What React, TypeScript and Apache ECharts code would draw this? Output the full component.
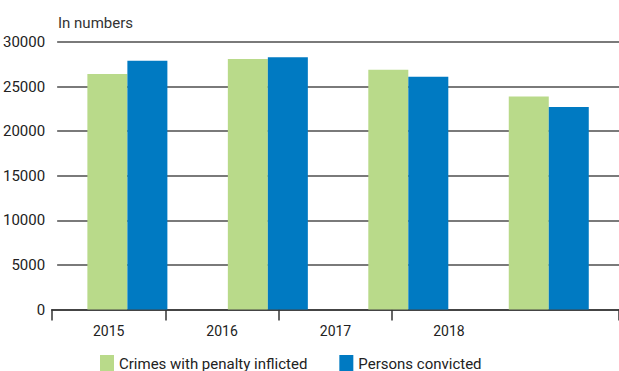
import React, { useEffect, useRef } from "react";
import * as echarts from "echarts";

const years = ["2015", "2016", "2017", "2018"];
const crimesWithPenalty = [26400, 28100, 26900, 23900];
const personsConvicted = [27900, 28300, 26100, 22700];
const yTicks = { min: 0, max: 30000, interval: 5000 };
const unitLabel = "In numbers";

const FONT = "Roboto, 'Liberation Sans', sans-serif";

export default function App() {
  const ref = useRef<HTMLDivElement>(null);
  useEffect(() => {
    if (!ref.current) return;
    const chart = echarts.init(ref.current, null, { renderer: "svg" });
    chart.setOption({
      animation: false,
      textStyle: { fontFamily: FONT },
      title: {
        text: unitLabel,
        left: 53,
        top: 10,
        textStyle: { fontFamily: FONT, fontSize: 15, fontWeight: "normal", color: "#333" },
      },
      legend: {
        left: 95,
        top: 350,
        icon: "rect",
        itemWidth: 14,
        itemHeight: 17,
        itemGap: 32,
        textStyle: { fontFamily: FONT, fontSize: 15, color: "#222" },
        data: ["Crimes with penalty inflicted", "Persons convicted"],
      },
      grid: [
        { left: 54, right: 0, top: 42, bottom: 61.5 },
        { left: 52, right: -8, top: 42, bottom: 61.5 },
      ],
      xAxis: [
        {
          type: "category",
          gridIndex: 0,
          data: years,
          axisLine: { show: false },
          axisTick: { show: false },
          axisLabel: { show: false },
        },
        {
          type: "category",
          gridIndex: 1,
          data: [...years, ""],
          axisLine: { show: true, lineStyle: { color: "#444", width: 2 } },
          axisTick: {
            show: true,
            length: 11,
            lineStyle: { color: "#333", width: 1.5 },
            interval: (index: number) => index < 4,
          },
          axisLabel: { fontFamily: FONT, fontSize: 14, color: "#222", margin: 14 },
        },
      ],
      yAxis: [
        {
          type: "value",
          gridIndex: 0,
          min: yTicks.min,
          max: yTicks.max,
          interval: yTicks.interval,
          axisLine: { show: false },
          axisTick: { show: false },
          axisLabel: {
            fontFamily: FONT,
            fontSize: 15,
            color: "#222",
            margin: 12,
            formatter: (v: number) => String(v),
          },
          splitLine: { lineStyle: { color: "#7a7a7a", width: 2 } },
        },
        {
          type: "value",
          gridIndex: 1,
          min: yTicks.min,
          max: yTicks.max,
          show: false,
          splitLine: { show: false },
        },
      ],
      series: [
        {
          name: "Crimes with penalty inflicted",
          type: "bar",
          xAxisIndex: 0,
          yAxisIndex: 0,
          data: crimesWithPenalty,
          barWidth: 40,
          barGap: "0%",
          itemStyle: { color: "#b9da8a" },
        },
        {
          name: "Persons convicted",
          type: "bar",
          xAxisIndex: 0,
          yAxisIndex: 0,
          data: personsConvicted,
          barWidth: 40,
          barGap: "0%",
          itemStyle: { color: "#007ac2" },
        },
      ],
    });
    return () => chart.dispose();
  }, []);
  return <div ref={ref} style={{ width: 619, height: 371, position: "absolute", left: 0, top: 0 }} />;
}
